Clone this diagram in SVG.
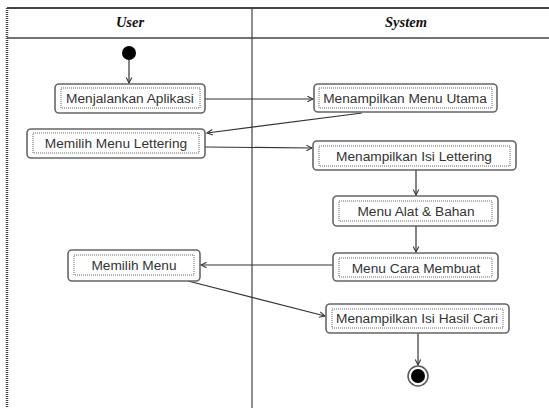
<svg xmlns="http://www.w3.org/2000/svg" width="549" height="408" viewBox="0 0 549 408">
<style>
.frame{stroke:#444;fill:none}
.hdr{font-family:"Liberation Serif",serif;font-weight:bold;font-style:italic;font-size:14.5px;fill:#111;text-anchor:middle}
.box{fill:#fff;stroke:#666;stroke-width:1.6}
.inner{fill:none;stroke:#555;stroke-width:0.9;stroke-dasharray:1 1}
.lbl{font-family:"Liberation Sans",Arial,sans-serif;font-size:13.7px;fill:#333;text-anchor:middle}
.con{stroke:#333;stroke-width:1.2;fill:none;marker-end:url(#arr)}
</style>
<defs>
<marker id="arr" viewBox="0 0 10 10" refX="9" refY="5" markerWidth="7" markerHeight="7" markerUnits="userSpaceOnUse" orient="auto">
<polyline points="1,1 9,5 1,9" fill="none" stroke="#333" stroke-width="1.5"/>
</marker>
</defs>
<rect width="549" height="408" fill="#fff"/>
<g id="frame">
<line class="frame" x1="7" y1="8" x2="549" y2="8" stroke-width="2" stroke="#777"/>
<line class="frame" x1="7" y1="8" x2="7" y2="408" stroke-width="2.5" stroke="#888" stroke-dasharray="1 1"/>
<line class="frame" x1="7" y1="38" x2="549" y2="38" stroke-width="1.5"/>
<line class="frame" x1="252" y1="8" x2="252" y2="408" stroke-width="1.2" stroke="#111"/>
<text class="hdr" x="130" y="27">User</text>
<text class="hdr" x="406" y="27">System</text>
</g>
<g id="connectors">
<line class="con" x1="129" y1="60" x2="129" y2="83"/>
<line class="con" x1="205" y1="99" x2="313" y2="99"/>
<line class="con" x1="362" y1="113" x2="207" y2="133"/>
<line class="con" x1="205" y1="147" x2="312" y2="148"/>
<line class="con" x1="416" y1="170" x2="416" y2="195"/>
<line class="con" x1="416" y1="226" x2="416" y2="252"/>
<line class="con" x1="333" y1="265" x2="201" y2="265"/>
<line class="con" x1="188" y1="281" x2="325" y2="316"/>
<line class="con" x1="418" y1="333" x2="418" y2="365"/>
</g>
<g id="start"><circle cx="129" cy="53" r="7" fill="#000"/></g>
<g id="n1">
<rect class="box" x="55" y="84" width="150" height="29" rx="4"/>
<rect class="inner" x="61" y="88" width="139" height="20"/>
<text class="lbl" x="130" y="103">Menjalankan Aplikasi</text>
</g>
<g id="n2">
<rect class="box" x="314" y="84" width="183" height="28" rx="4"/>
<rect class="inner" x="319" y="88" width="173" height="20"/>
<text class="lbl" x="405" y="103">Menampilkan Menu Utama</text>
</g>
<g id="n3">
<rect class="box" x="27" y="129" width="178" height="29" rx="4"/>
<rect class="inner" x="33" y="133" width="166" height="20"/>
<text class="lbl" x="116" y="148">Memilih Menu Lettering</text>
</g>
<g id="n4">
<rect class="box" x="313" y="141" width="203" height="29" rx="4"/>
<rect class="inner" x="319" y="146" width="191" height="20"/>
<text class="lbl" x="414" y="161">Menampilkan Isi Lettering</text>
</g>
<g id="n5">
<rect class="box" x="333" y="196" width="165" height="30" rx="4"/>
<rect class="inner" x="339" y="201" width="153" height="20"/>
<text class="lbl" x="416" y="216">Menu Alat &amp; Bahan</text>
</g>
<g id="n6">
<rect class="box" x="333" y="253" width="165" height="28" rx="4"/>
<rect class="inner" x="339" y="258" width="153" height="19"/>
<text class="lbl" x="416" y="273">Menu Cara Membuat</text>
</g>
<g id="n7">
<rect class="box" x="68" y="250" width="132" height="31" rx="4"/>
<rect class="inner" x="74" y="255" width="120" height="20"/>
<text class="lbl" x="134" y="270">Memilih Menu</text>
</g>
<g id="n8">
<rect class="box" x="326" y="304" width="183" height="29" rx="4"/>
<rect class="inner" x="332" y="309" width="171" height="19"/>
<text class="lbl" x="417" y="323">Menampilkan Isi Hasil Cari</text>
</g>
<g id="end">
<circle cx="418" cy="376" r="10" fill="#fff" stroke="#555" stroke-width="1.5"/>
<circle cx="418" cy="376" r="7" fill="#000"/>
</g>
</svg>
